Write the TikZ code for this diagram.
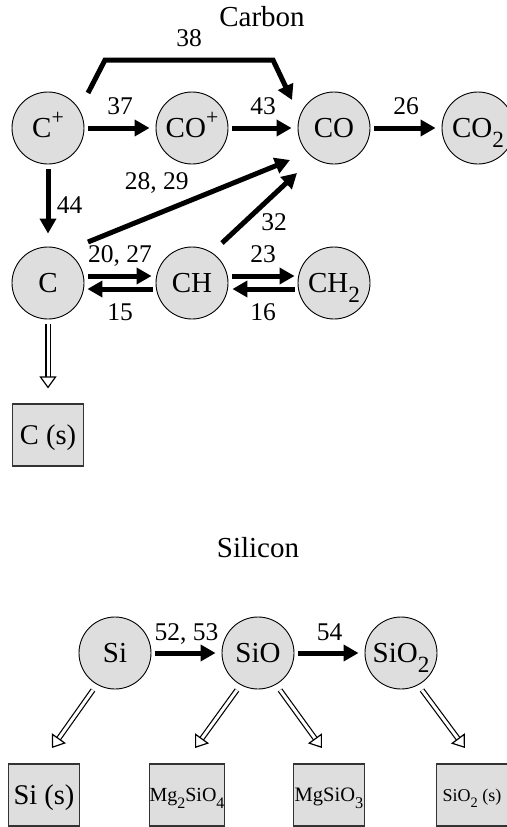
\documentclass[tikz,border=0pt]{standalone}
\usepackage{fontspec}
\setmainfont{Liberation Serif}
\usetikzlibrary{arrows.meta}

\definecolor{speciesgray}{gray}{0.87}
\newcommand{\chemsub}[1]{\raisebox{-0.33em}{\scalebox{0.8}{#1}}}
\newcommand{\chemsup}[1]{\raisebox{0.45em}{\scalebox{0.75}{#1}}}

\tikzset{
  species/.style={circle, draw, line width=0.9pt, fill=speciesgray, minimum size=72pt, inner sep=0pt, text height=19pt, text depth=0pt, font=\fontsize{29}{30}\selectfont},
  solidbox/.style={rectangle, draw=black!80, line width=1.1pt, fill=speciesgray, minimum width=71pt, minimum height=62pt, inner sep=0pt, text depth=0pt, font=\fontsize{28.5}{30}\selectfont},
  rxn/.style={line width=5pt, -{Triangle[length=15pt,width=16pt]}},
  gap/.style={shorten <=4pt, shorten >=6pt},
  cond/.style={double=white, double distance=3pt, line width=1.2pt, -{Triangle[open,length=12pt,width=17pt]}},
  lbl/.style={font=\fontsize{25.5}{28}\selectfont},
  title/.style={font=\fontsize{29}{32}\selectfont},
}

\begin{document}
\begin{tikzpicture}[x=1pt, y=-1pt]
\useasboundingbox (0,0) rectangle (506,827);

% carbon network
\node[title] (carbon) at (262,17) {Carbon};
\node[species] (Cp) at (48,128) {C\chemsup{+}};
\node[species] (COp) at (192,128) {CO\chemsup{+}};
\node[species] (CO) at (334,128) {CO};
\node[species] (COtwo) at (478,128) {CO\chemsub{2}};
\node[species] (C) at (48,283) {C};
\node[species] (CH) at (192,283) {CH};
\node[species] (CHtwo) at (334,283) {CH\chemsub{2}};
\node[solidbox] (Cs) at (48,435) {C (s)};

\draw[rxn] ([shift={(40,-35)}]Cp.center) -- ++(17,-33) -- node[lbl, above=7pt] {38} ++(168,0) -- ([shift={(-42,-28)}]CO.center);
\draw[rxn, gap] (Cp) -- node[lbl, above=7pt] {37} (COp);
\draw[rxn, gap] (COp) -- node[lbl, above=7pt] {43} (CO);
\draw[rxn, gap] (CO) -- node[lbl, above=7pt] {26} (COtwo);
\draw[rxn, shorten <=5pt, shorten >=13pt] (Cp) -- node[lbl, right=3pt] {44} (C);
\draw[rxn] ([shift={(40,-41)}]C.center) -- node[lbl, pos=0.34, above=15pt] {28, 29} ([shift={(-44,32)}]CO.center);
\draw[rxn] ([shift={(30,-40)}]CH.center) -- node[lbl, pos=0.5, below right, xshift=-4pt] {32} ([shift={(-37,45)}]CO.center);
\draw[rxn, shorten <=4pt, shorten >=4pt] ([yshift=7pt]C.east) -- node[lbl, above=3.5pt] {20, 27} ([yshift=7pt]CH.west);
\draw[rxn, shorten <=3pt, shorten >=3pt] ([yshift=-6pt]CH.west) -- node[lbl, below=9pt] {15} ([yshift=-6pt]C.east);
\draw[rxn, shorten <=4pt, shorten >=3pt] ([yshift=7pt]CH.east) -- node[lbl, above=7pt] {23} ([yshift=7pt]CHtwo.west);
\draw[rxn, shorten <=3pt, shorten >=4pt] ([yshift=-6pt]CHtwo.west) -- node[lbl, below=9pt] {16} ([yshift=-6pt]CH.east);
\draw[cond, shorten <=5pt, shorten >=15pt] (C) -- (Cs);

% silicon network
\node[title] (silicon) at (258,548) {Silicon};
\node[species] (Si) at (115,653) {Si};
\node[species] (SiO) at (258,653) {SiO};
\node[species] (SiOtwo) at (401,653) {SiO\chemsub{2}};
\node[solidbox] (Sis) at (44,795) {Si (s)};
\node[solidbox, font=\fontsize{20}{22}\selectfont] (MgtwoSiOfour) at (187,795) {Mg\chemsub{2}SiO\chemsub{4}};
\node[solidbox, font=\fontsize{20.5}{22}\selectfont] (MgSiOthree) at (329,795) {MgSiO\chemsub{3}};
\node[solidbox, font=\fontsize{18}{20}\selectfont] (SiOtwos) at (472,795) {SiO\chemsub{2} (s)};

\draw[rxn, gap] (Si) -- node[lbl, above=3pt] {52, 53} (SiO);
\draw[rxn, gap] (SiO) -- node[lbl, above=6pt] {54} (SiOtwo);
\draw[cond] ([shift={(-22,37)}]Si.center) -- ([shift={(8,-47)}]Sis.center);
\draw[cond] ([shift={(-21,37)}]SiO.center) -- ([shift={(8,-47)}]MgtwoSiOfour.center);
\draw[cond] ([shift={(22,37)}]SiO.center) -- ([shift={(-7,-47)}]MgSiOthree.center);
\draw[cond] ([shift={(21,37)}]SiOtwo.center) -- ([shift={(-7,-47)}]SiOtwos.center);
\end{tikzpicture}
\end{document}
